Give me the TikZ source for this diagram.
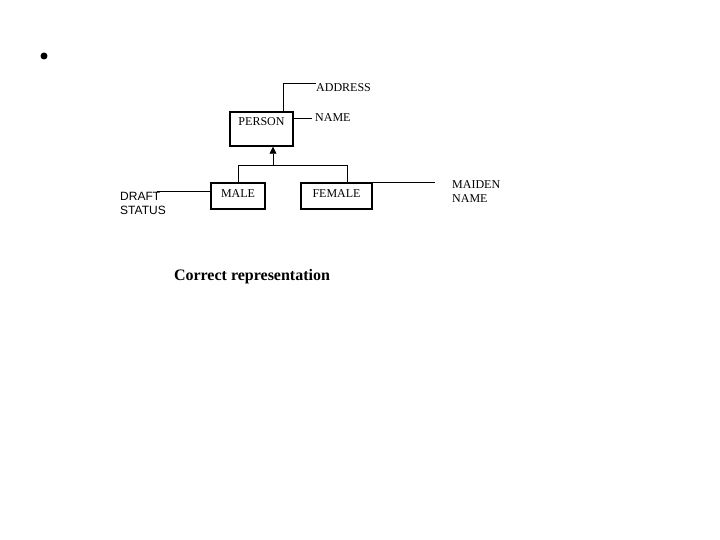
\documentclass[tikz,border=0pt]{standalone}
\usepackage{fontspec}
\setmainfont{Liberation Serif}
\newfontfamily\arialfont{Liberation Sans}
\usetikzlibrary{arrows.meta,positioning}

\begin{document}
\begin{tikzpicture}[x=1pt, y=-1pt,
  entity/.style={draw, line width=1.5pt, inner sep=0pt,
    font=\fontsize{12}{14}\selectfont, text height=14pt},
  attr/.style={inner sep=0pt, align=left,
    font=\fontsize{12}{14}\selectfont},
  link/.style={line width=0.8pt},
  isa/.style={link, -{Triangle[length=7pt, width=7pt]}}
]
\useasboundingbox (0,0) rectangle (720,540);

% Bullet
\fill (44,56) circle (3.5);

% Entities
\node[entity, minimum width=63pt, text depth=20pt] (person) at (261.5,129) {PERSON};
\node[entity, minimum width=54pt, text depth=12pt] (male) at (238,196) {MALE};
\node[entity, minimum width=71pt, text depth=12pt] (female) at (336.5,196) {FEMALE};

% Attributes
\node[attr, anchor=west] (address) at (316,88) {ADDRESS};
\node[attr, anchor=west] (name) at (315,118) {NAME};
\node[attr, anchor=west, font=\arialfont\fontsize{12}{14}\selectfont]
  (draft) at (120,203) {DRAFT\\STATUS};
\node[attr, anchor=west] (maiden) at (452,192) {MAIDEN\\NAME};

% Attribute links
\coordinate (addrcorner) at (283,83);
\draw[link] (addrcorner |- person.north) -- (addrcorner) -- (addrcorner -| address.west);
\draw[link, shorten >=3pt] (person.east |- name.west) -- (name.west);
\draw[link] (draft.north east) ++(-9,0) -- (male.west |- draft.north);
\draw[link, shorten >=17pt] (female.north east) -- (maiden.west |- female.north);

% Generalisation
\coordinate (split) at (273,165);
\coordinate (fjoin) at (347,165);
\draw[isa] (split) -- (split |- person.south);
\draw[link] (male.north) |- (fjoin) -- (fjoin |- female.north);

% Caption
\node[font=\bfseries\fontsize{16}{18}\selectfont] (caption) at (252,277)
  {Correct representation};

\end{tikzpicture}
\end{document}
